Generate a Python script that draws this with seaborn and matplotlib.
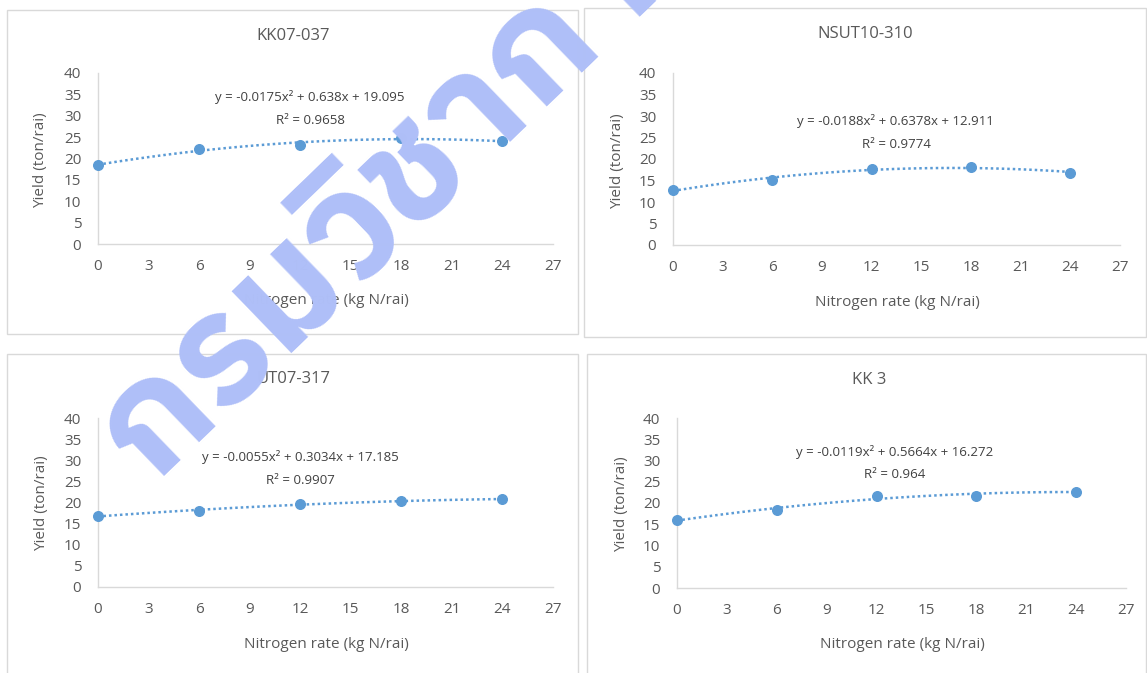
import numpy as np
import pandas as pd
import matplotlib
matplotlib.use("Agg")
import matplotlib.pyplot as plt
import seaborn as sns
from matplotlib import font_manager
from matplotlib.ft2font import FT2Font
from matplotlib.patches import Rectangle

# values
nitrogen = [0, 6, 12, 18, 24]
kk07_037 = [18.4, 22.3, 23.2, 24.8, 24.0]
nsut10_310 = [12.8, 15.2, 17.6, 18.2, 16.8]
ut07_317 = [16.8, 18.0, 19.7, 20.3, 20.8]
kk3 = [16.0, 18.3, 21.7, 21.7, 22.7]

titles = ["KK07-037", "NSUT10-310", "UT07-317", "KK 3"]
equations = ["y = -0.0175x² + 0.638x + 19.095",
             "y = -0.0188x² + 0.6378x + 12.911",
             "y = -0.0055x² + 0.3034x + 17.185",
             "y = -0.0119x² + 0.5664x + 16.272"]
r2_labels = ["R² = 0.9658", "R² = 0.9774", "R² = 0.9907", "R² = 0.964"]
x_ticks = list(range(0, 28, 3))
y_ticks = list(range(0, 41, 5))
x_label = "Nitrogen rate (kg N/rai)"
y_label = "Yield (ton/rai)"
watermark = "กรมวิชาการเกษตร"

W, H = 1147, 673
BLUE = "#5b9bd5"
GRID = "#d9d9d9"
TXT = "#595959"

sns.set_theme(style="white")
plt.rcParams["font.family"] = ["Open Sans", "DejaVu Sans"]

fig = plt.figure(figsize=(W / 100, H / 100), dpi=100)


def fx(px):
    return px / W


def fy(py):
    return 1 - py / H


# pixel layout of each panel: frame box, plot area, text anchors
layout = [
    dict(box=(7, 10, 578, 334), area=(98, 73, 553, 244), title=(293, 36),
         eq=(310, 97), r2=(310, 121), xl=(326, 301), yl=(41, 160)),
    dict(box=(584, 8, 1146, 337), area=(673, 73, 1120, 245), title=(865, 34),
         eq=(895, 121), r2=(896, 145), xl=(897, 303), yl=(618, 161)),
    dict(box=(7, 354, 578, 680), area=(98, 418, 553, 587), title=(294, 379),
         eq=(300, 457), r2=(300, 480), xl=(326, 644), yl=(42, 503)),
    dict(box=(587, 354, 1146, 680), area=(677, 418, 1126, 588), title=(869, 380),
         eq=(895, 452), r2=(895, 475), xl=(902, 645), yl=(622, 504)),
]

series = [kk07_037, nsut10_310, ut07_317, kk3]

for i, (yld, lay) in enumerate(zip(series, layout)):
    bx0, by0, bx1, by1 = lay["box"]
    fig.patches.append(Rectangle((fx(bx0), fy(by1)), fx(bx1 - bx0), (by1 - by0) / H,
                                 transform=fig.transFigure, fill=False,
                                 edgecolor=GRID, lw=1.0))
    ax0, ay0, ax1, ay1 = lay["area"]
    ax = fig.add_axes([fx(ax0), fy(ay1), fx(ax1 - ax0), (ay1 - ay0) / H])
    df = pd.DataFrame({"n": nitrogen, "y": yld})
    sns.regplot(data=df, x="n", y="y", order=2, ci=None, ax=ax, color=BLUE,
                scatter_kws=dict(s=48, alpha=1, clip_on=False, zorder=3),
                line_kws=dict(ls=(0, (1, 1.2)), lw=1.8))
    ax.set_xlim(0, 27)
    ax.set_ylim(0, 40)
    ax.set_xticks(x_ticks)
    ax.set_yticks(y_ticks)
    ax.set_xlabel("")
    ax.set_ylabel("")
    for s in ["top", "right"]:
        ax.spines[s].set_visible(False)
    for s in ["left", "bottom"]:
        ax.spines[s].set_color(GRID)
        ax.spines[s].set_linewidth(1.0)
    ax.tick_params(axis="both", length=0, labelsize=11, colors=TXT)
    ax.tick_params(axis="x", pad=11)
    ax.tick_params(axis="y", pad=12)
    ax.patch.set_alpha(0)

    fig.text(fx(lay["title"][0]), fy(lay["title"][1]), titles[i], ha="center",
             va="center", fontsize=12, color=TXT)
    fig.text(fx(lay["eq"][0]), fy(lay["eq"][1]), equations[i], ha="center",
             va="center", fontsize=9.5, color="#404040")
    fig.text(fx(lay["r2"][0]), fy(lay["r2"][1]), r2_labels[i], ha="center",
             va="center", fontsize=9.5, color="#404040")
    fig.text(fx(lay["xl"][0]), fy(lay["xl"][1]), x_label, ha="center",
             va="center", fontsize=11, color=TXT)
    fig.text(fx(lay["yl"][0]), fy(lay["yl"][1]), y_label, ha="center",
             va="center", fontsize=11, color=TXT, rotation=90)


# watermark, only if some installed font can draw Thai (prefer a loopless one)
thai_fonts = []
for f in font_manager.fontManager.ttflist:
    try:
        if 0x0E01 in FT2Font(f.fname).get_charmap():
            thai_fonts.append(f.name)
    except Exception:
        pass
if thai_fonts:
    thai_fonts.sort(key=lambda n: ("Looped" in n, "Thai" not in n))
    fig.text(fx(150), fy(486), watermark, ha="left", va="baseline",
             rotation_mode="anchor", fontsize=112, fontweight="bold",
             color="#afbff8", rotation=44, family=thai_fonts[0], zorder=10)

fig.savefig("out.png", dpi=100)
